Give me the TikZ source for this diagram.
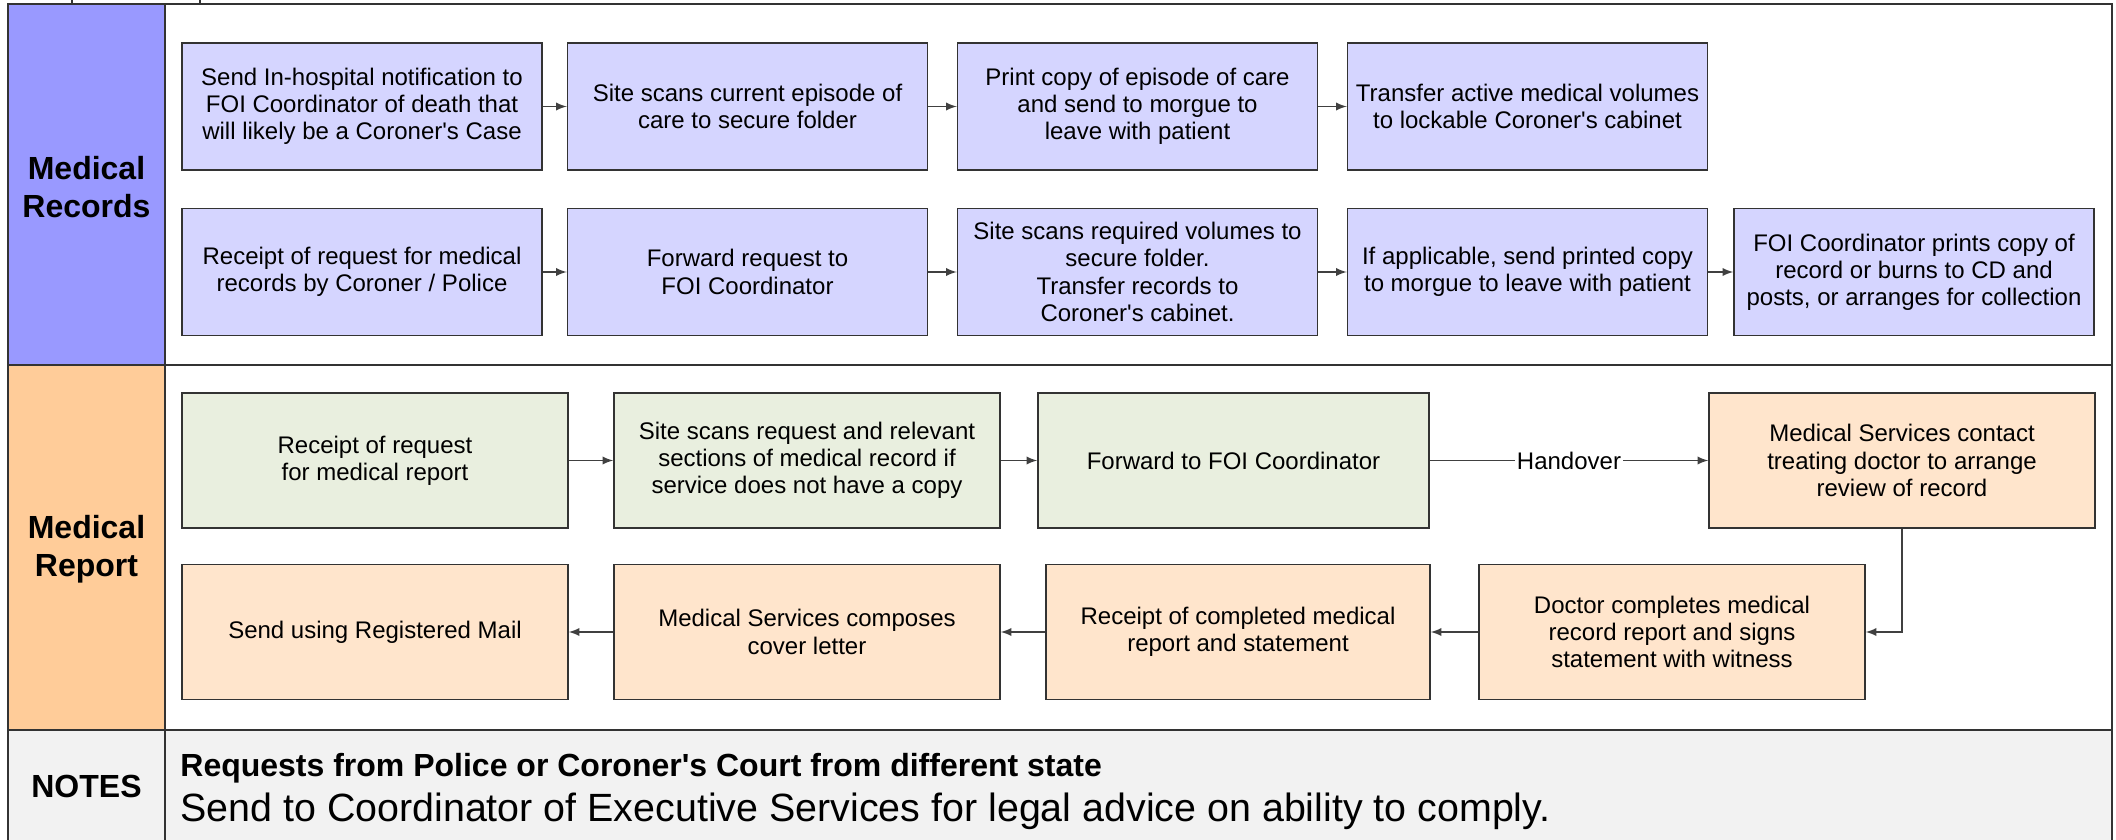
\documentclass[tikz,border=0pt]{standalone}
\usepackage{fontspec}
\setmainfont{Liberation Sans}[Ligatures=TeXOff]
\usepackage{tikz}
\usetikzlibrary{positioning}
\usepackage{xcolor}

\definecolor{recordslane}{HTML}{9999FF}
\definecolor{reportlane}{HTML}{FFCC99}
\definecolor{noteslane}{HTML}{F2F2F2}
\definecolor{recordsbox}{HTML}{D5D5FF}
\definecolor{intakebox}{HTML}{E9EFDF}
\definecolor{servicebox}{HTML}{FFE5CC}
\definecolor{framegray}{HTML}{333333}

\tikzset{
	stepbox/.style={draw=framegray, line width=0.75pt, align=center, inner sep=2pt,
		font=\fontsize{12}{13.6}\selectfont},
	recbox/.style={stepbox, fill=recordsbox, minimum width=180pt, minimum height=63.5pt},
	inbox/.style={stepbox, fill=intakebox, minimum width=193pt, minimum height=67.5pt},
	svcbox/.style={stepbox, fill=servicebox, minimum width=193pt, minimum height=67.5pt},
	flow/.style={-latex, line width=0.85pt, draw=black!75},
	lanetitle/.style={align=center, font=\fontsize{16}{19}\selectfont\bfseries}
}

\begin{document}
\begin{tikzpicture}[x=0.5pt, y=-0.5pt]
	\useasboundingbox (0,0) rectangle (2116,840);
	%Lane backgrounds
	\fill[recordslane] (8,4) rectangle (165,365);
	\fill[reportlane] (8,365) rectangle (165,730);
	\fill[noteslane] (8,730) rectangle (2112,840);
	%Frame
	\draw[framegray, line width=1pt] (8,840) -- (8,4) -- (2112,4) -- (2112,840);
	\draw[framegray, line width=1pt] (165,4) -- (165,840);
	\draw[framegray, line width=1pt] (8,365) -- (2112,365);
	\draw[framegray, line width=1pt] (8,730) -- (2112,730);
	\draw[framegray, line width=1pt] (72,0) -- (72,4);
	\draw[framegray, line width=1pt] (200,0) -- (200,4);
	%Lane titles
	\node[lanetitle] (records) at (86.5,187) {Medical\\Records};
	\node[lanetitle] (report) at (86.5,549) {Medical\\Report};
	\node[lanetitle] (notes) at (86.5,786) {NOTES};
	% Medical Records, first row
	\node[recbox] (notify) at (362,106.5) {Send In-hospital notification to\\FOI Coordinator of death that\\will likely be a Coroner's Case};
	\node[recbox] (scancare) at (747.5,106.5) {Site scans current episode of\\care to secure folder};
	\node[recbox] (printcopy) at (1137.5,106.5) {Print copy of episode of care\\and send to morgue to\\leave with patient};
	\node[recbox] (transfer) at (1527.5,106.5) {Transfer active medical volumes\\to lockable Coroner's cabinet};
	\draw[flow] (notify) -- (scancare);
	\draw[flow] (scancare) -- (printcopy);
	\draw[flow] (printcopy) -- (transfer);
	% Medical Records, second row
	\node[recbox] (receipt) at (362,272) {Receipt of request for medical\\records by Coroner / Police};
	\node[recbox] (forward) at (747.5,272) {Forward request to\\FOI Coordinator};
	\node[recbox] (scanvol) at (1137.5,272) {Site scans required volumes to\\secure folder.\\Transfer records to\\Coroner's cabinet.};
	\node[recbox] (sendprint) at (1527.5,272) {If applicable, send printed copy\\to morgue to leave with patient};
	\node[recbox] (foiprint) at (1914,272) {FOI Coordinator prints copy of\\record or burns to CD and\\posts, or arranges for collection};
	\draw[flow] (receipt) -- (forward);
	\draw[flow] (forward) -- (scanvol);
	\draw[flow] (scanvol) -- (sendprint);
	\draw[flow] (sendprint) -- (foiprint);
	% Medical Report, first row
	\node[inbox] (reqreport) at (375,460.5) {Receipt of request\\for medical report};
	\node[inbox] (scanreq) at (807,460.5) {Site scans request and relevant\\sections of medical record if\\service does not have a copy};
	\node[inbox, minimum width=195.5pt] (tofoi) at (1233.5,460.5) {Forward to FOI Coordinator};
	\node[svcbox] (contact) at (1902,460.5) {Medical Services contact\\treating doctor to arrange\\review of record};
	\draw[flow] (reqreport) -- (scanreq);
	\draw[flow] (scanreq) -- (tofoi);
	\draw[flow] (tofoi) -- node[fill=white, inner sep=1pt, font=\fontsize{12}{13.6}\selectfont] {Handover} (contact);
	% Medical Report, second row
	\node[svcbox] (doctor) at (1672,632) {Doctor completes medical\\record report and signs\\statement with witness};
	\node[svcbox, minimum width=192pt] (completed) at (1238,632) {Receipt of completed medical\\report and statement};
	\node[svcbox] (cover) at (807,632) {Medical Services composes\\cover letter};
	\node[svcbox] (regmail) at (375,632) {Send using Registered Mail};
	\draw[flow] (contact.south) |- (doctor.east);
	\draw[flow] (doctor) -- (completed);
	\draw[flow] (completed) -- (cover);
	\draw[flow] (cover) -- (regmail);
	% Notes
	\node[anchor=west, inner sep=0pt, font=\fontsize{16}{19}\selectfont\bfseries] (notehead) at (180,768) {Requests from Police or Coroner's Court from different state};
	\node[anchor=west, inner sep=0pt, font=\fontsize{19.7}{23}\selectfont] (notebody) at (180,811) {Send to Coordinator of Executive Services for legal advice on ability to comply.};
\end{tikzpicture}
\end{document}
